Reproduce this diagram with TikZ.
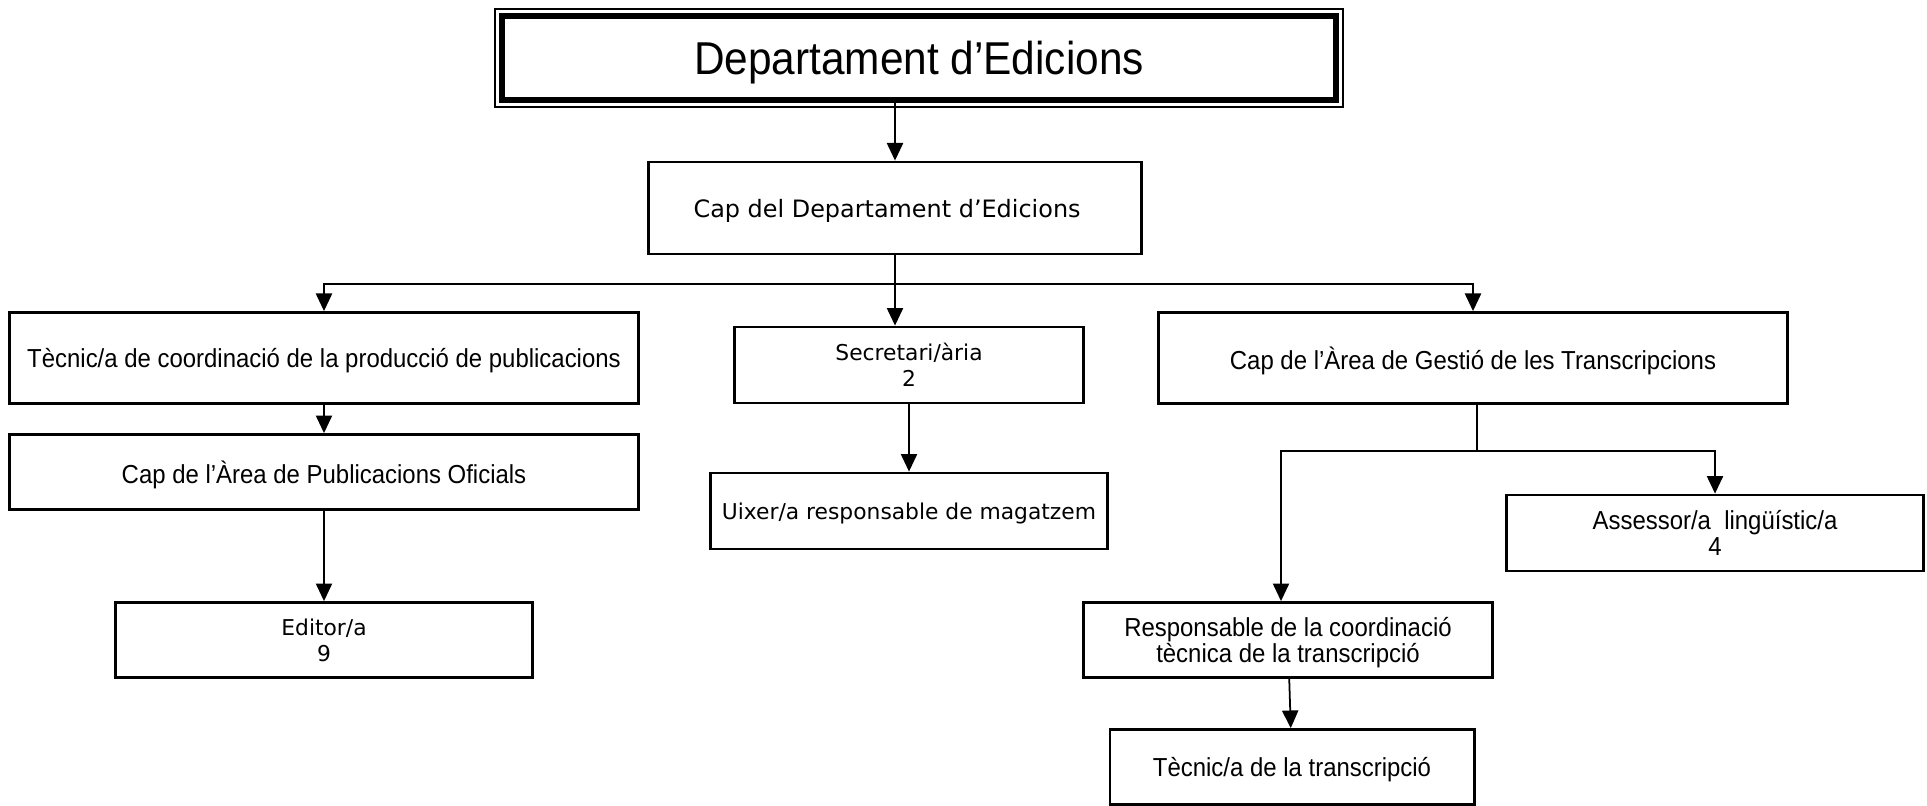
\documentclass[tikz,border=0pt]{standalone}
\usepackage{fontspec}
\setmainfont{DejaVu Sans}
\newfontfamily\narrowfont[FakeStretch=0.92]{Liberation Sans}
\usetikzlibrary{arrows.meta,calc}

\tikzset{
  box/.style={draw, line width=0.8pt, inner sep=0pt, align=center, text depth=0pt,
    font=\fontsize{6.2}{7.4}\selectfont},
  narrowbox/.style={box, font=\narrowfont\fontsize{7.4}{7.5}\selectfont},
  link/.style={line width=0.5pt, -{Triangle[length=5pt,width=4.6pt]}},
}

\begin{document}
\begin{tikzpicture}[x=0.01cm, y=-0.01cm]
\useasboundingbox (0,0) rectangle (1927,805);
\node [box, line width=1.6pt, minimum width=8.34cm, minimum height=0.84cm,
  font=\narrowfont\fontsize{13.1}{14}\selectfont] (dept) at (919,58) {Departament d’Edicions};
\draw [line width=0.4pt] ($(dept.north west)+(-4,-4)$) rectangle ($(dept.south east)+(4,4)$);
\node [box, minimum width=4.92cm, minimum height=0.92cm] (cap_dep) at (895,208) {\hspace*{-4.5pt}\fontsize{6.8}{8}\selectfont Cap del Departament d’Edicions};
\node [narrowbox, minimum width=6.29cm, minimum height=0.91cm] (tec_coord) at (324,358) {Tècnic/a de coordinació de la producció de publicacions};
\node [narrowbox, minimum width=6.29cm, minimum height=0.75cm] (cap_pub) at (324,472) {Cap de l’Àrea de Publicacions Oficials};
\node [box, minimum width=4.17cm, minimum height=0.75cm] (editor) at (324,640) {Editor/a\\9};
\node [box, minimum width=3.49cm, minimum height=0.76cm] (secret) at (909,365) {Secretari/ària\\2};
\node [box, minimum width=3.96cm, minimum height=0.76cm] (uixer) at (909,511) {Uixer/a responsable de magatzem};
\node [narrowbox, minimum width=6.29cm, minimum height=0.91cm] (cap_trans) at (1473,358) {Cap de l’Àrea de Gestió de les Transcripcions};
\node [narrowbox, minimum width=4.16cm, minimum height=0.76cm] (assessor) at (1715,533) {Assessor/a\ \ lingüístic/a\\4};
\node [narrowbox, minimum width=4.09cm, minimum height=0.75cm] (resp) at (1288,640) {Responsable de la coordinació\\tècnica de la transcripció};
\node [narrowbox, minimum width=3.64cm, minimum height=0.75cm] (tec_trans) at (1292,767) {Tècnic/a de la transcripció};

\coordinate (bus) at (895,284);
\coordinate (tbus) at (1477,451);
\coordinate (resp_in) at ($(resp.north)+(-7,0)$);

\draw [link] (cap_dep.north |- dept.south) -- (cap_dep.north);
\draw [line width=0.5pt] (cap_dep.south) -- (bus);
\draw [link] (bus) -| (tec_coord.north);
\draw [link] (bus) -| (cap_trans.north);
\draw [link] (cap_dep.south) -- (cap_dep.south |- secret.north);
\draw [link] (tec_coord) -- (cap_pub);
\draw [link] (cap_pub) -- (editor);
\draw [link] (secret) -- (uixer);
\draw [line width=0.5pt] (tbus |- cap_trans.south) -- (tbus);
\draw [link] (tbus) -| (resp_in);
\draw [link] (tbus) -| (assessor.north);
\draw [link] (resp) -- (tec_trans);
\end{tikzpicture}
\end{document}
